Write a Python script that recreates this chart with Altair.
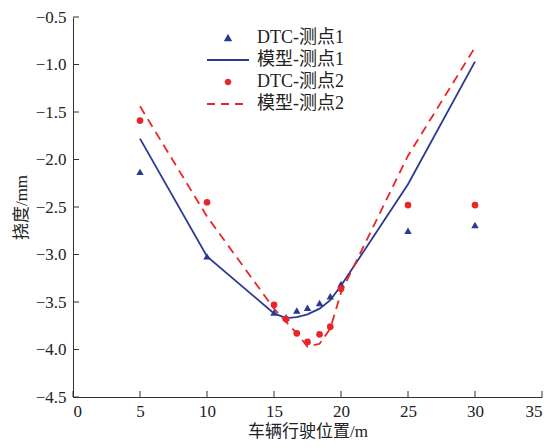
import altair as alt
import pandas as pd

# ---------------- data ----------------
x_dtc = [5, 10, 15, 15.9, 16.7, 17.5, 18.4, 19.2, 20, 25, 30]
dtc1 = [-2.13, -3.02, -3.61, -3.66, -3.59, -3.56, -3.51, -3.44, -3.31, -2.75, -2.69]
dtc2 = [-1.59, -2.45, -3.53, -3.68, -3.83, -3.92, -3.84, -3.76, -3.36, -2.48, -2.48]

x_model = [5, 10, 15, 15.9, 16.7, 17.5, 18.4, 19.2, 20, 25, 30]
model1 = [-1.78, -3.02, -3.62, -3.67, -3.66, -3.63, -3.57, -3.48, -3.33, -2.26, -0.97]
model2 = [-1.44, -2.60, -3.57, -3.71, -3.83, -3.97, -3.94, -3.78, -3.40, -1.96, -0.82]

legend_labels = ["DTC-测点1", "模型-测点1", "DTC-测点2", "模型-测点2"]
x_ticks = [0, 5, 10, 15, 20, 25, 30, 35]
y_ticks = [-4.5, -4.0, -3.5, -3.0, -2.5, -2.0, -1.5, -1.0, -0.5]

# ---------------- style ----------------
BLUE = "#2B3990"
RED = "#E8262A"
AXIS = "#333333"
FONT = "Liberation Serif, Noto Sans CJK SC"
W, H = 469, 380

df_pts = pd.DataFrame({"x": x_dtc, "dtc1": dtc1, "dtc2": dtc2})
df_mod = pd.DataFrame({"x": x_model, "m1": model1, "m2": model2})
df_xt = pd.DataFrame({"t": x_ticks})
df_yt = pd.DataFrame({"t": y_ticks})
df_leg = pd.DataFrame({"series": legend_labels})

xs = alt.Scale(domain=[0, 35], nice=False, zero=False)
ys = alt.Scale(domain=[-4.5, -0.5], nice=False, zero=False)

xaxis = alt.Axis(values=x_ticks, format="d", ticks=False, tickSize=0, grid=False,
                 labelPadding=6, title="车辆行驶位置/m", titlePadding=4)
yaxis = alt.Axis(values=y_ticks, format=".1f", ticks=False, tickSize=0, grid=False,
                 labelPadding=7, title="挠度/mm", titlePadding=5)

line1 = alt.Chart(df_mod).mark_line(color=BLUE, strokeWidth=1.8).encode(
    x=alt.X("x:Q", scale=xs, axis=xaxis),
    y=alt.Y("m1:Q", scale=ys, axis=yaxis),
)
line2 = alt.Chart(df_mod).mark_line(color=RED, strokeWidth=1.8, strokeDash=[9, 6]).encode(
    x=alt.X("x:Q", scale=xs, axis=xaxis),
    y=alt.Y("m2:Q", scale=ys, axis=yaxis),
)
pts1 = alt.Chart(df_pts).mark_point(shape="triangle-up", filled=True, color=BLUE,
                                     opacity=1, size=55).encode(
    x=alt.X("x:Q", scale=xs, axis=xaxis),
    y=alt.Y("dtc1:Q", scale=ys, axis=yaxis),
)
pts2 = alt.Chart(df_pts).mark_point(shape="circle", filled=True, color=RED,
                                     opacity=1, size=45).encode(
    x=alt.X("x:Q", scale=xs, axis=xaxis),
    y=alt.Y("dtc2:Q", scale=ys, axis=yaxis),
)

# inward tick marks
xticks = alt.Chart(df_xt).mark_rule(color=AXIS, strokeWidth=1).encode(
    x=alt.X("t:Q", scale=xs, axis=xaxis),
    y=alt.value(H), y2=alt.value(H - 6),
)
yticks = alt.Chart(df_yt).mark_rule(color=AXIS, strokeWidth=1).encode(
    y=alt.Y("t:Q", scale=ys, axis=yaxis),
    x=alt.value(0), x2=alt.value(6),
)

# legend (empty data, explicit domain)
tri = "M0,-0.42L0.42,0.32L-0.42,0.32Z"
dot = "M0.33,0A0.33,0.33,0,1,1,-0.33,0A0.33,0.33,0,1,1,0.33,0Z"
solid = "M-2.1,-0.09H2.1V0.09H-2.1Z"
dashed = ("M-2.1,-0.09H-1.3V0.09H-2.1Z"
          "M-0.7,-0.09H0.1V0.09H-0.7Z"
          "M0.7,-0.09H1.5V0.09H0.7Z")
leg = alt.Legend(title=None, orient="none", legendX=134, legendY=11,
                 symbolSize=400, symbolStrokeWidth=0,
                 symbolOffset=11, labelOffset=19,
                 labelFont=FONT, labelFontSize=18, labelColor="#222222",
                 rowPadding=3, padding=0, symbolOpacity=1)
legend_layer = alt.Chart(df_leg).transform_filter("false").mark_point(
    filled=True, opacity=1).encode(
    color=alt.Color("series:N",
                    scale=alt.Scale(domain=legend_labels, range=[BLUE, BLUE, RED, RED]),
                    legend=leg),
    shape=alt.Shape("series:N",
                    scale=alt.Scale(domain=legend_labels, range=[tri, solid, dot, dashed]),
                    legend=leg),
)

chart = alt.layer(line1, line2, pts1, pts2, xticks, yticks, legend_layer).properties(
    width=W, height=H,
    autosize=alt.AutoSizeParams(type="none"),
    padding={"left": 65, "top": 9, "right": 7, "bottom": 45},
).configure_view(stroke=None).configure_axis(
    domainColor=AXIS, domainWidth=1,
    labelFont=FONT, labelFontSize=17, labelColor="#222222",
    titleFont=FONT, titleFontSize=17, titleFontWeight="normal", titleColor="#222222",
)

chart.save("out.html", embed_options={"renderer": "svg", "actions": False})
